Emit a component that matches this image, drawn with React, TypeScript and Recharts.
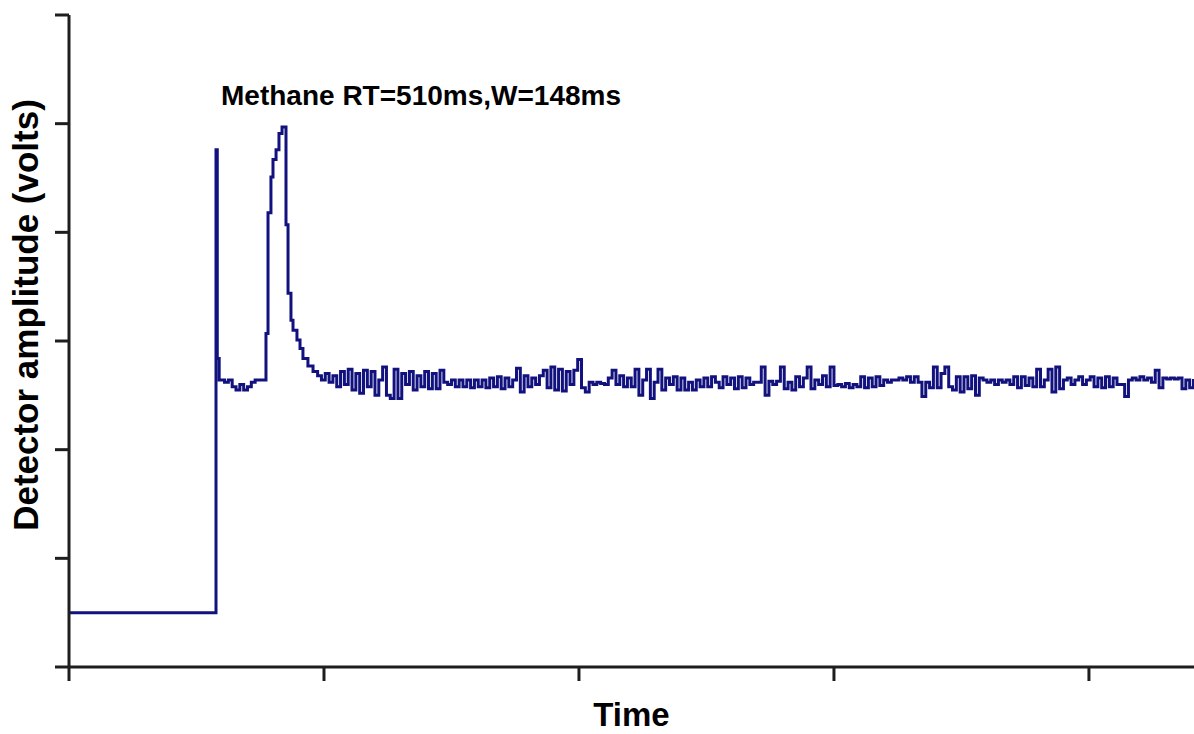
import {
  Label,
  Line,
  LineChart,
  ReferenceDot,
  XAxis,
  YAxis,
} from "recharts";

const TRACE_BLUE = "#12127f";
const AXIS_INK = "#1e1e1e";
const FONT = "'Liberation Sans', Arial, sans-serif";

// time in ms, detector output in volts
const X_TICKS = [0, 2000, 4000, 6000, 8000];
const Y_TICKS = [0, 1, 2, 3, 4, 5, 6];

const INJECTION_TIMES = [0, 1153, 1163, 1178];
const INJECTION_VALUES = [0.5, 4.76, 2.84, 2.64];

const SAMPLE_STEP = 30;

const PRE_PEAK_START = 1190;
const PRE_PEAK_VALUES = [2.64, 2.62, 2.64, 2.58, 2.55, 2.6, 2.55, 2.58, 2.62, 2.64, 2.64, 2.64];

const PEAK_TIMES = [
  1545, 1561, 1584, 1600, 1624, 1647, 1671, 1702, 1718, 1741, 1757, 1788, 1812,
  1835, 1874, 1914, 1950,
];
const PEAK_VALUES = [
  3.07, 4.18, 4.51, 4.67, 4.76, 4.91, 4.97, 4.07, 3.44, 3.19, 3.1, 3.01, 2.93,
  2.84, 2.77, 2.72, 2.68,
];

const NOISE_START = 1980;
const NOISE_VALUES = [
  2.64, 2.7, 2.62, 2.68, 2.58, 2.72, 2.6, 2.74, 2.55, 2.7,
  2.52, 2.73, 2.58, 2.72, 2.5, 2.64, 2.76, 2.5, 2.47, 2.74,
  2.47, 2.7, 2.6, 2.72, 2.55, 2.68, 2.58, 2.72, 2.56, 2.7,
  2.56, 2.73, 2.62, 2.6, 2.64, 2.58, 2.64, 2.58, 2.64, 2.57,
  2.64, 2.58, 2.64, 2.57, 2.66, 2.58, 2.67, 2.56, 2.66, 2.58,
  2.64, 2.75, 2.53, 2.68, 2.58, 2.66, 2.6, 2.68, 2.73, 2.57,
  2.76, 2.55, 2.74, 2.54, 2.72, 2.6, 2.73, 2.83, 2.57, 2.53,
  2.62, 2.6, 2.62, 2.61, 2.6, 2.66, 2.73, 2.6, 2.68, 2.58,
  2.66, 2.58, 2.74, 2.5, 2.64, 2.74, 2.47, 2.62, 2.74, 2.55,
  2.66, 2.6, 2.67, 2.55, 2.66, 2.55, 2.62, 2.55, 2.64, 2.58,
  2.66, 2.58, 2.67, 2.62, 2.57, 2.67, 2.6, 2.66, 2.56, 2.67,
  2.57, 2.66, 2.6, 2.62, 2.62, 2.76, 2.5, 2.63, 2.6, 2.63,
  2.76, 2.56, 2.62, 2.55, 2.67, 2.58, 2.66, 2.76, 2.56, 2.64,
  2.6, 2.68, 2.58, 2.76, 2.59, 2.6, 2.58, 2.61, 2.57, 2.6,
  2.58, 2.67, 2.57, 2.66, 2.58, 2.67, 2.59, 2.64, 2.62, 2.64,
  2.64, 2.66, 2.64, 2.67, 2.62, 2.67, 2.62, 2.49, 2.62, 2.57,
  2.76, 2.57, 2.7, 2.76, 2.58, 2.55, 2.67, 2.53, 2.67, 2.56,
  2.68, 2.5, 2.66, 2.64, 2.62, 2.64, 2.6, 2.64, 2.62, 2.64,
  2.6, 2.67, 2.57, 2.67, 2.59, 2.66, 2.58, 2.74, 2.58, 2.64,
  2.74, 2.53, 2.76, 2.56, 2.64, 2.66, 2.6, 2.64, 2.67, 2.6,
  2.64, 2.67, 2.58, 2.66, 2.57, 2.67, 2.58, 2.66, 2.6, 2.6,
  2.49, 2.64, 2.66, 2.64, 2.67, 2.64, 2.66, 2.62, 2.73, 2.57,
  2.66, 2.65, 2.66, 2.65, 2.66, 2.56, 2.64, 2.57, 2.65,
];

const PEAK_LABEL = "Methane RT=510ms,W=148ms";

const data = [
  ...INJECTION_TIMES.map((t, i) => ({ t, v: INJECTION_VALUES[i] })),
  ...PRE_PEAK_VALUES.map((v, i) => ({ t: PRE_PEAK_START + i * SAMPLE_STEP, v })),
  ...PEAK_TIMES.map((t, i) => ({ t, v: PEAK_VALUES[i] })),
  ...NOISE_VALUES.map((v, i) => ({ t: NOISE_START + i * SAMPLE_STEP, v })),
];

const peakIndex = PEAK_VALUES.indexOf(Math.max(...PEAK_VALUES));

// no tick labels on this plot, only the marks
const NoTickText = () => <g />;

export default function App() {
  return (
    <div style={{ position: "absolute", left: 0, top: 0, background: "#fff" }}>
      <LineChart
        width={1194}
        height={734}
        data={data}
        margin={{ top: 15, right: 0, bottom: 0, left: 0 }}
      >
        <XAxis
          dataKey="t"
          type="number"
          domain={[0, 8824]}
          ticks={X_TICKS}
          allowDataOverflow
          tick={NoTickText}
          tickSize={14}
          height={67}
          stroke={AXIS_INK}
          strokeWidth={3}
          axisLine={{ stroke: AXIS_INK, strokeWidth: 3 }}
          tickLine={{ stroke: AXIS_INK, strokeWidth: 3 }}
        >
          <Label
            value="Time"
            position="insideBottom"
            offset={8}
            fill="#000"
            fontSize={33}
            fontWeight="bold"
            fontFamily={FONT}
          />
        </XAxis>
        <YAxis
          type="number"
          domain={[0, 6]}
          ticks={Y_TICKS}
          tick={NoTickText}
          tickSize={14}
          width={69}
          stroke={AXIS_INK}
          strokeWidth={3}
          axisLine={{ stroke: AXIS_INK, strokeWidth: 3 }}
          tickLine={{ stroke: AXIS_INK, strokeWidth: 3 }}
        >
          <Label
            content={() => (
              <text
                transform="translate(38, 315) rotate(-90)"
                textAnchor="middle"
                fill="#000"
                fontSize={35}
                fontWeight="bold"
                fontFamily={FONT}
              >
                Detector amplitude (volts)
              </text>
            )}
          />
        </YAxis>
        <Line
          dataKey="v"
          type="stepAfter"
          stroke={TRACE_BLUE}
          strokeWidth={3}
          dot={false}
          activeDot={false}
          isAnimationActive={false}
        />
        <ReferenceDot
          x={PEAK_TIMES[peakIndex]}
          y={PEAK_VALUES[peakIndex]}
          r={0}
          fill="none"
          stroke="none"
          label={{
            content: (props: any) => {
              const vb = props.viewBox || {};
              return (
                <text
                  x={(vb.x ?? 0) - 61}
                  y={(vb.y ?? 0) - 22}
                  fill="#000"
                  fontSize={28}
                  fontWeight="bold"
                  fontFamily={FONT}
                >
                  {PEAK_LABEL}
                </text>
              );
            },
          }}
        />
      </LineChart>
    </div>
  );
}
